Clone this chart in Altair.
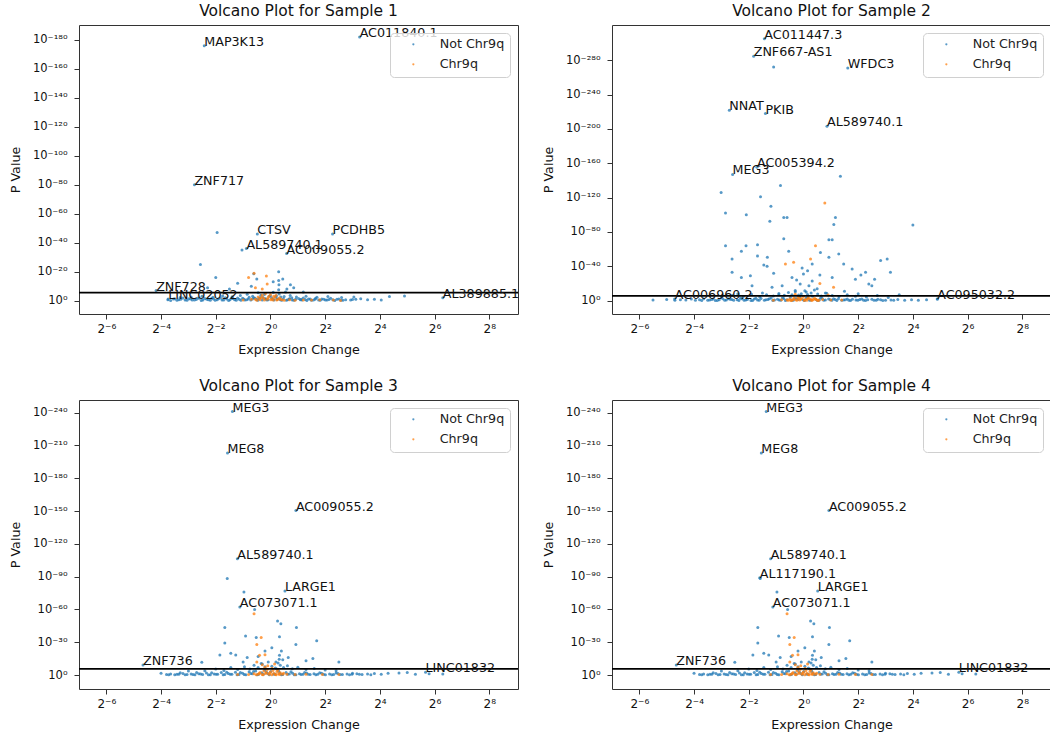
import altair as alt
import pandas as pd

FONT = "DejaVu Sans"
BLUE, ORANGE = "#1f77b4", "#ff7f0e"
GROUPS = ["Not Chr9q", "Chr9q"]

panel_titles = ["Volcano Plot for Sample 1", "Volcano Plot for Sample 2",
                "Volcano Plot for Sample 3", "Volcano Plot for Sample 4"]
x_tick_exponents = [-6, -4, -2, 0, 2, 4, 6, 8]
x_domain_exponents = [-7.0, 9.05]
threshold_nlp = [5.6]

y_ticks = [
    [0, 20, 40, 60, 80, 100, 120, 140, 160, 180],
    [0, 40, 80, 120, 160, 200, 240, 280],
    [0, 30, 60, 90, 120, 150, 180, 210, 240],
    [0, 30, 60, 90, 120, 150, 180, 210, 240],
]
y_domains = [[-9.2, 190.3], [-15.5, 321.0], [-12.8, 251.6], [-12.8, 251.6]]

# ---------------- Sample 1 ----------------
p1_genes = ["MAP3K13", "AC011840.1", "ZNF717", "CTSV", "PCDHB5", "AL589740.1",
            "AC009055.2", "ZNF728", "LINC02052", "AL389885.1"]
p1_gene_lfc = [-2.42, 3.26, -2.78, -0.48, 2.27, -0.88, 0.59, -4.18, -3.74, 6.3]
p1_gene_nlp = [176, 182, 80, 46, 46, 36, 32.5, 7, 1.2, 2]

p1_blue_lfc = [-3.75, -3.55, -3.42, -3.28, -3.12, -2.98, -2.86, -2.71, -2.6, -2.47, -2.33, -2.2, -2.08,
               -1.95, -1.83, -1.71, -1.6, -1.48, -1.37, -1.25, -1.14, -1.02, -0.93, -0.81, -0.72, -0.61,
               -0.5, -0.41, -0.3, -0.19, -0.08, 0.04, 0.13, 0.24, 0.36, 0.47, 0.58, 0.69, 0.8, 0.92, 1.03,
               1.15, 1.27, 1.39, 1.5, 1.63, 1.76, 1.88, 2.01, 2.14, 2.28, 2.43, 2.58, 2.75, 2.93, 3.12,
               3.3, 3.55, 3.8, 4.05, 4.35, 4.9,
               -3.65, -3.35, -3.05, -2.78, -2.53, -2.27, -2.02, -1.77, -1.53, -1.31, -1.08, -0.87, -0.66,
               -0.46, -0.27, -0.13, 0.08, 0.19, 0.41, 0.63, 0.86, 1.09, 1.33, 1.57, 1.82, 2.07, 2.35, 2.65,
               -3.2, -2.65, -2.15, -1.65, -1.2, -0.78, -0.38, 0.0, 0.38, 0.78, 1.2, 1.65, 2.2,
               -3.5, -2.92, -2.4, -1.9, -1.42, -0.98, -0.56, -0.16, 0.27, 0.7, 1.12, 1.45, 1.95, 2.5, 3.0,
               -3.3, -2.9, -2.5, -2.1, -1.75, -1.4, -1.1, -0.85, -0.65, -0.45, -0.35, -0.22, -0.05, 0.1,
               0.22, 0.3, 0.31, 0.3, 0.32, 0.5, 0.72, 0.95, 1.3, 1.7, 2.1, 2.6, 3.05,
               -1.95, -2.56, -1.04, -2.0, -0.61, -0.5, 0.3, 0.45, 0.73, 0.85, -1.2, 0.55, -2.3, -1.5, 1.2,
               -0.7, 0.1, 0.6]
p1_blue_nlp = [0.6, 1.1, 0.3, 0.9, 0.5, 1.3, 0.4, 0.8, 1.6, 0.5, 1.0, 0.3, 1.2,
               0.7, 1.8, 0.4, 1.1, 0.6, 1.5, 0.3, 0.9, 1.7, 0.5, 1.2, 0.4, 2.1,
               0.8, 1.6, 0.5, 1.3, 0.7, 1.9, 0.4, 1.0, 0.6, 1.4, 0.3, 1.1, 0.5, 0.9, 1.5,
               0.4, 0.8, 1.2, 0.3, 0.9, 0.5, 1.1, 0.4, 0.8, 0.6, 1.0, 0.3, 0.7, 0.5, 0.9,
               1.4, 0.6, 0.9, 0.4, 2.9, 3.2,
               0.2, 0.7, 0.3, 0.5, 0.2, 0.6, 0.3, 0.5, 0.2, 0.7, 0.3, 0.6, 1.2,
               0.3, 2.2, 0.4, 0.9, 2.6, 0.3, 0.7, 0.3, 0.6, 0.2, 0.5, 0.3, 0.4, 0.2, 0.3,
               1.8, 1.9, 1.7, 2.1, 1.9, 2.3, 2.0, 3.4, 2.5, 2.0, 1.9, 1.7, 1.6,
               1.4, 1.2, 1.5, 1.3, 1.6, 1.1, 1.7, 1.2, 1.4, 1.3, 1.0, 1.2, 0.9, 1.1, 0.8,
               2.2, 2.6, 3.0, 2.4, 3.2, 2.7, 3.6, 4.5, 3.1, 5.5, 3.8, 4.2, 3.0, 5.8,
               3.4, 7.5, 11.0, 14.0, 4.6, 2.9, 3.5, 2.6, 3.0, 2.4, 2.8, 2.2, 2.6,
               47, 25, 35, 16, 18.5, 15, 20, 15, 11, 9, 12, 6, 9, 8, 6,
               10, 13, 8]
p1_orange_lfc = [-0.55, -0.45, -0.38, -0.3, -0.25, -0.18, -0.12, -0.06, 0.0, 0.05, 0.1, 0.15, 0.2,
                 0.26, 0.33, 0.42, -0.7, -1.0, 0.7, 1.2, 1.8, 2.3, 2.56, -0.8, -0.15, -0.55, -0.3,
                 -0.6, -0.12, -0.5, -0.4, -0.33, -0.22, -0.09, 0.02, 0.12, 0.23, 0.36, 0.5, 0.9, 1.5]
p1_orange_nlp = [1.0, 2.5, 0.6, 3.8, 1.6, 5.0, 0.9, 2.8, 4.2, 1.3, 0.5, 2.2, 3.5,
                 0.8, 1.8, 0.7, 0.9, 0.5, 0.6, 0.4, 0.7, 0.5, 0.2, 16, 17, 9, 8,
                 19, 11.5, 0.3, 1.5, 2.2, 0.4, 1.9, 0.6, 3.0, 0.4, 0.9, 0.3, 0.3, 0.5]

# ---------------- Sample 2 ----------------
p2_genes = ["AC011447.3", "ZNF667-AS1", "WFDC3", "NNAT", "PKIB", "AL589740.1",
            "AC005394.2", "MEG3", "AC006960.2", "AC095032.2"]
p2_gene_lfc = [-1.43, -1.82, 1.62, -2.71, -1.39, 0.86, -1.70, -2.59, -4.71, 4.89]
p2_gene_nlp = [305, 284.7, 271, 221.7, 217.9, 203, 155.5, 147, 2, 2]

p2_blue_lfc = [-5.5, -5.0, -4.7, -4.5, -4.3, -4.1, -3.95, -3.8, -3.65, -3.5, -3.36, -3.22, -3.08, -2.95,
               -2.82, -2.68, -2.55, -2.42, -2.3, -2.17, -2.05, -1.92, -1.8, -1.68, -1.55, -1.43, -1.3,
               -1.18, -1.06, -0.95, -0.83, -0.72, -0.6, -0.48, -0.37, -0.25, -0.13, -0.02, 0.1, 0.22,
               0.33, 0.45, 0.57, 0.68, 0.8, 0.92, 1.04, 1.16, 1.28, 1.4, 1.53, 1.66, 1.79, 1.92, 2.06,
               2.2, 2.35, 2.5, 2.66, 2.82, 3.0, 3.2, 3.45, 3.7, 3.95, 4.2, 4.5, 4.9,
               -3.72, -3.43, -3.15, -2.88, -2.62, -2.36, -2.11, -1.86, -1.62, -1.37, -1.12, -0.89, -0.66,
               -0.43, -0.19, 0.04, 0.27, 0.51, 0.74, 0.98, 1.22, 1.47, 1.72, 1.99, 2.27, 2.58, 2.9, 3.3,
               -3.3, -2.75, -2.25, -1.74, -1.25, -0.77, -0.31, 0.16, 0.62, 1.1, 1.6, 2.13, 2.72,
               -3.0, -2.6, -2.2, -1.9, -1.6, -1.35, -1.1, -0.9, -0.7, -0.55, -0.42, -0.3, -0.18, -0.08,
               0.05, 0.15, 0.28, 0.4, 0.52, 0.65, 0.85, 1.05, 1.3, 1.6, 1.9, 2.3, 2.7, 3.1,
               -1.09, 1.35, -0.84, -1.57, -3.01, -2.85, -2.09, -1.19, -0.72, -0.6, -1.23, 1.17, 1.11,
               4.0, 0.93, 1.05, -0.72, -0.54, -2.85, -2.1, -1.68, -2.27, -2.61, -1.68, -1.32, -1.45,
               -1.33, 0.32, 0.62, 0.93, 1.29, 1.47, 1.78, 2.27, 2.82, 3.06, 3.18, -2.61, -2.27, -1.94,
               -1.09, -0.42, 0.0, 0.32, 1.05, 1.9, 2.39, 2.5, -1.88, -1.15, -0.78, -0.12, 0.2, -0.3,
               0.1, 0.5, 0.8, 1.5, 2.0, -1.5, -0.9, -2.4, 3.5, -0.05, 0.15, -0.25, 0.6, 2.1, 2.6]
p2_blue_nlp = [0.8, 1.5, 0.5, 1.2, 0.7, 1.9, 0.4, 1.0, 2.2, 0.6, 1.4, 0.3, 1.1, 2.4,
               0.7, 1.6, 0.4, 1.2, 2.8, 0.6, 1.5, 0.3, 1.9, 0.8, 2.6, 0.5, 1.3,
               3.2, 0.7, 1.8, 0.4, 2.5, 1.0, 3.8, 0.6, 2.2, 4.5, 1.2, 3.0, 0.5,
               5.2, 1.6, 0.4, 2.7, 0.9, 1.9, 0.5, 1.4, 2.3, 0.6, 1.2, 0.4, 1.7, 0.8, 1.3,
               0.5, 1.0, 1.8, 0.6, 1.1, 0.4, 0.9, 1.5, 0.6, 1.0, 0.5, 1.2, 2.0,
               0.3, 0.9, 0.2, 0.6, 1.3, 0.3, 0.8, 0.2, 0.5, 1.1, 0.3, 0.7, 0.2,
               0.6, 1.4, 0.3, 0.8, 0.2, 0.5, 1.0, 0.3, 0.7, 0.2, 0.6, 0.3, 0.5, 0.2, 0.4,
               2.0, 2.4, 2.2, 2.7, 2.3, 3.0, 2.6, 3.4, 2.8, 2.4, 2.1, 1.9, 1.7,
               4.5, 6.0, 5.0, 7.5, 4.2, 6.8, 5.5, 8.5, 6.2, 9.5, 7.0, 10.5, 6.5, 8.0,
               11.5, 7.2, 9.0, 12.5, 7.8, 5.6, 8.8, 6.0, 4.8, 7.0, 5.2, 4.4, 6.0, 3.8,
               272, 145, 134, 121, 126, 102, 100, 110, 97, 97, 92.5, 97, 88.7,
               88, 71, 71, 72, 57.5, 64, 64, 65, 57.5, 48.6, 52, 50.6, 41.6,
               40, 42.8, 56, 50.6, 54.4, 42.8, 37, 33, 46.7, 48.6, 33, 33, 27, 29,
               32, 27, 31, 23, 27, 25, 19.4, 17.5, 17.5, 15.6, 17.5, 19.4, 17.5, 12,
               10, 14, 9, 11, 8, 9, 7, 8, 7, 38, 35, 24, 30, 30, 25]
p2_orange_lfc = [-0.6, -0.5, -0.42, -0.35, -0.28, -0.2, -0.14, -0.07, 0.0, 0.06, 0.12, 0.18, 0.25,
                 0.32, 0.4, 0.48, 0.56, 0.7, -0.8, 1.0, -1.1, 1.4, 0.9, -0.3,
                 0.78, 0.44, -0.66, -0.36, 0.26, 1.1, 0.6,
                 -0.46, -0.38, -0.24, -0.1, 0.03, 0.15, 0.29, 0.44, 0.52, -0.55, 0.35, -0.17]
p2_orange_nlp = [0.8, 2.0, 0.5, 3.2, 1.2, 4.0, 0.7, 2.5, 5.0, 1.5, 0.4, 3.3, 1.9,
                 0.6, 2.8, 1.0, 0.5, 1.4, 1.1, 0.7, 0.5, 0.9, 6.5, 7.5,
                 113.6, 64, 42.8, 44.7, 48.6, 15.6, 20,
                 0.3, 1.4, 0.6, 1.7, 0.3, 2.3, 0.4, 1.8, 0.3, 0.5, 1.3, 2.9]

# ---------------- Samples 3 and 4 (same scatter) ----------------
p3_genes = ["MEG3", "MEG8", "AC009055.2", "AL589740.1", "LARGE1", "AC073071.1",
            "ZNF736", "LINC01832"]
p3_gene_lfc = [-1.39, -1.57, 0.93, -1.21, 0.53, -1.12, -4.66, 5.67]
p3_gene_nlp = [241, 203, 150.4, 106.4, 76.9, 62.3, 9.1, 2.5]

p4_genes = ["MEG3", "MEG8", "AC009055.2", "AL589740.1", "AL117190.1", "LARGE1",
            "AC073071.1", "ZNF736", "LINC01832"]
p4_gene_lfc = [-1.36, -1.54, 0.93, -1.2, -1.6, 0.52, -1.12, -4.65, 5.68]
p4_gene_nlp = [241, 203, 150.4, 106.4, 89, 76.9, 62.3, 9.1, 2.5]

p3_blue_lfc = [-4.0, -3.8, -3.65, -3.5, -3.35, -3.2, -3.05, -2.9, -2.76, -2.62, -2.48, -2.34, -2.2,
               -2.06, -1.93, -1.8, -1.67, -1.54, -1.41, -1.28, -1.15, -1.02, -0.9, -0.78, -0.66, -0.54,
               -0.43, -0.32, -0.21, -0.1, 0.01, 0.12, 0.23, 0.34, 0.45, 0.57, 0.69, 0.81, 0.93, 1.06,
               1.19, 1.32, 1.45, 1.59, 1.73, 1.87, 2.01, 2.16, 2.31, 2.47, 2.63, 2.8, 2.98, 3.16, 3.35,
               3.55, 3.8, 4.05, 4.3, 4.7, 5.0, 5.3, 5.8, 6.3,
               -3.72, -3.42, -3.12, -2.83, -2.55, -2.27, -1.99, -1.73, -1.47, -1.22, -0.96, -0.72, -0.48,
               -0.26, -0.04, 0.17, 0.4, 0.63, 0.87, 1.12, 1.38, 1.66, 1.94, 2.24, 2.55, 2.89, 3.25, 3.67,
               -3.3, -2.7, -2.15, -1.6, -1.1, -0.62, -0.15, 0.3, 0.75, 1.25, 1.8, 2.4, 3.0,
               -2.4, -2.0, -1.7, -1.45, -1.2, -0.95, -0.75, -0.6, -0.45, -0.34, -0.2, -0.08, 0.05, 0.18,
               0.28, 0.32, 0.36, 0.48, 0.62, 0.8, 1.0, 1.3, 1.6, 2.0, 2.4, -3.0,
               -1.58, -0.97, -0.58, -1.67, 0.26, 0.38, 0.95, -0.91, -0.52, -1.67, 0.33, 1.69, 0.93,
               -1.85, -1.45, -1.27, -0.85, -0.45, 0.33, 0.45, 0.65, 1.3, 1.55, -2.51, -1.0, -0.3, 0.2,
               2.5, 0.05, 0.4, -0.2]
p3_blue_nlp = [1.5, 0.5, 1.0, 0.3, 0.8, 1.4, 0.4, 0.9, 0.2, 1.2, 0.5, 1.8, 0.3,
               1.0, 0.6, 2.2, 0.4, 1.3, 0.7, 2.6, 0.5, 1.6, 0.3, 2.9, 1.1, 3.6,
               0.6, 2.0, 4.5, 1.3, 3.2, 0.7, 5.5, 1.9, 0.4, 2.4, 0.9, 1.6, 0.3, 1.2,
               0.6, 1.9, 0.4, 1.1, 0.7, 1.5, 0.3, 1.0, 0.5, 1.3, 0.4, 0.9, 0.6, 1.2, 0.4,
               0.9, 1.4, 0.6, 1.7, 1.9, 2.4, 0.7, 1.2, 0.9,
               0.2, 0.6, 0.2, 0.5, 0.9, 0.2, 0.6, 0.3, 0.8, 0.2, 0.5, 1.3, 0.3,
               0.7, 0.2, 1.0, 0.3, 0.6, 0.2, 0.5, 0.8, 0.2, 0.6, 0.3, 0.5, 0.2, 0.6, 0.3,
               2.0, 2.3, 2.1, 2.6, 2.4, 3.1, 2.7, 3.6, 2.9, 2.4, 2.1, 1.9, 1.7,
               4.0, 5.5, 4.2, 6.8, 5.0, 7.5, 5.6, 9.0, 6.8, 10.5, 7.5, 12.0, 8.0, 6.3,
               11.0, 14.5, 9.0, 6.8, 8.5, 5.8, 7.2, 5.0, 6.0, 4.5, 3.8, 3.6,
               88.4, 76, 60, 43.5, 49.5, 47, 43.5, 35.8, 34.3, 29.2, 35, 31.3, 28,
               18.2, 20, 18.2, 16, 17, 18, 14, 16, 13, 15, 11.6, 12, 10, 12,
               12, 25, 22, 22]
p3_orange_lfc = [-0.45, -0.38, -0.3, -0.24, -0.18, -0.12, -0.06, 0.0, 0.06, 0.12, 0.18, 0.24, 0.3,
                 0.36, 0.44, -0.6, -0.8, 0.6, 0.9, 1.3, 1.9, 2.5, -1.2, -0.1, -0.3, -0.5,
                 -0.6, -0.34, -0.5, -0.4, -0.2, 0.15,
                 -0.52, -0.41, -0.27, -0.15, -0.03, 0.09, 0.21, 0.33, 0.48, -0.2, 0.05, 0.27]
p3_orange_nlp = [0.8, 2.2, 0.5, 3.6, 1.3, 5.0, 0.7, 2.8, 6.2, 1.6, 0.4, 3.3, 1.1,
                 2.0, 0.6, 1.2, 0.5, 0.8, 0.4, 0.6, 0.5, 0.4, 0.4, 8.5, 9.5, 12,
                 56, 34.4, 28, 18, 18.5, 10,
                 0.3, 1.4, 0.3, 2.4, 1.5, 4.1, 0.3, 0.5, 1.6, 7.0, 0.3, 4.5]

panels = [
    (p1_genes, p1_gene_lfc, p1_gene_nlp, p1_blue_lfc, p1_blue_nlp, p1_orange_lfc, p1_orange_nlp),
    (p2_genes, p2_gene_lfc, p2_gene_nlp, p2_blue_lfc, p2_blue_nlp, p2_orange_lfc, p2_orange_nlp),
    (p3_genes, p3_gene_lfc, p3_gene_nlp, p3_blue_lfc, p3_blue_nlp, p3_orange_lfc, p3_orange_nlp),
    (p4_genes, p4_gene_lfc, p4_gene_nlp, p3_blue_lfc, p3_blue_nlp, p3_orange_lfc, p3_orange_nlp),
]

SUP = [("-", "⁻"), ("0", "⁰"), ("1", "¹"), ("2", "²"), ("3", "³"), ("4", "⁴"),
       ("5", "⁵"), ("6", "⁶"), ("7", "⁷"), ("8", "⁸"), ("9", "⁹")]


def sup(e):
    for a, b in SUP:
        e = f"replace({e}, regexp('{a}', 'g'), '{b}')"
    return e


x_label_expr = "'2' + " + sup("('' + round(log(datum.value) / LN2))")
y_label_expr = "'10' + " + sup("('' + (datum.value == 0 ? 0 : -datum.value))")


def make_panel(i):
    genes, glfc, gnlp, blfc, bnlp, olfc, onlp = panels[i]
    pts = pd.DataFrame({
        "fc": [2.0 ** v for v in list(blfc) + list(glfc) + list(olfc)],
        "nlp": list(bnlp) + list(gnlp) + list(onlp),
        "group": [GROUPS[0]] * (len(blfc) + len(glfc)) + [GROUPS[1]] * len(olfc),
    })
    labels = pd.DataFrame({"fc": [2.0 ** v for v in glfc], "nlp": gnlp, "gene": genes})
    thr = pd.DataFrame({"nlp": threshold_nlp})

    x = alt.X("fc:Q",
              scale=alt.Scale(type="log", base=2, domain=[2.0 ** x_domain_exponents[0],
                                                          2.0 ** x_domain_exponents[1]], nice=False),
              axis=alt.Axis(values=[2.0 ** e for e in x_tick_exponents], labelExpr=x_label_expr,
                            title="Expression Change", tickSize=5, labelPadding=4, titlePadding=9,
                            labelFontSize=12, titleFontSize=12.7, grid=False, domain=False,
                            labelFlush=False, labelOverlap=False, labelBaseline="top"))
    y = alt.Y("nlp:Q",
              scale=alt.Scale(domain=y_domains[i], nice=False, zero=False),
              axis=alt.Axis(values=y_ticks[i], labelExpr=y_label_expr, title="P Value",
                            tickSize=5, labelPadding=7, minExtent=48, maxExtent=48, titlePadding=9,
                            labelFontSize=11.5, titleFontSize=12.7, grid=False, domain=False,
                            labelFlush=False, labelOverlap=False, labelBound=False,
                            labelSeparation=0))

    points = alt.Chart(pts).mark_circle(size=9, opacity=0.75).encode(
        x=x, y=y,
        color=alt.Color("group:N",
                        scale=alt.Scale(domain=GROUPS, range=[BLUE, ORANGE]),
                        legend=alt.Legend(orient="top-right", offset=8, title=None,
                                          fillColor="rgba(255,255,255,0.8)", strokeColor="#d0d0d0",
                                          cornerRadius=4, padding=5, symbolType="circle",
                                          symbolSize=5, symbolOffset=12, labelOffset=20,
                                          labelFontSize=12.7, labelFont=FONT, rowPadding=6,
                                          labelColor="#222")),
    )
    rule = alt.Chart(thr).mark_rule(color="black", strokeWidth=1.8).encode(y=y)
    text = alt.Chart(labels).mark_text(align="left", baseline="alphabetic", font=FONT,
                                       fontSize=12.7, color="#111").encode(
        x=x, y=y, text="gene:N")
    return alt.layer(points, rule, text).properties(
        width=439, height=289,
        title=alt.TitleParams(panel_titles[i], font=FONT, fontSize=15.5, fontWeight="normal",
                              color="#111", offset=6, anchor="middle"),
    )


chart = alt.concat(*[make_panel(i) for i in range(4)], columns=2,
                   spacing={"row": 86, "column": 94}, bounds="flush").resolve_scale(
    color="independent").resolve_legend(color="independent").properties(
    autosize=alt.AutoSizeParams(type="none"),
    padding={"left": 79, "top": 25, "right": 971, "bottom": 715},
    background="white",
).configure_view(stroke="#333", strokeWidth=1).configure_axis(
    labelFont=FONT, titleFont=FONT, labelColor="#111", titleColor="#111",
    tickColor="#333", titleFontWeight="normal", labelOverlap=False,
).configure_text(font=FONT)

chart.save("out.html", embed_options={"renderer": "svg", "actions": False})
